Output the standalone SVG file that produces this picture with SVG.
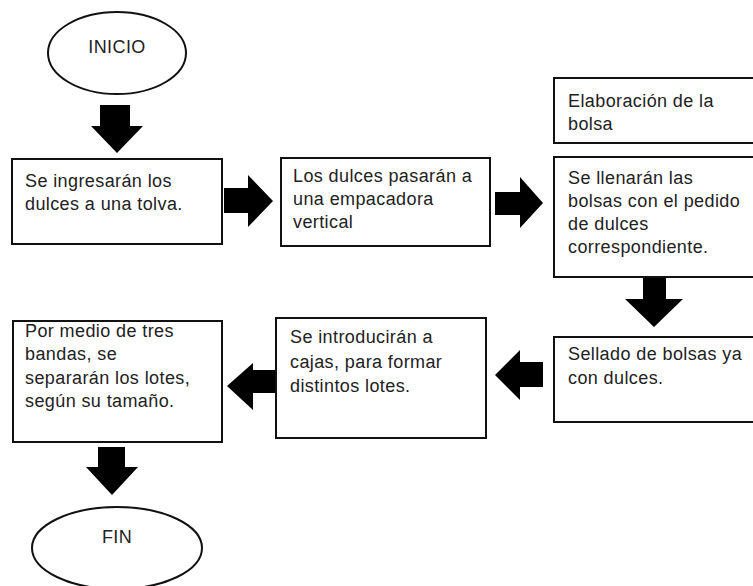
<svg xmlns="http://www.w3.org/2000/svg" width="753" height="586" viewBox="0 0 753 586">
<style>
.box{fill:#fff;stroke:#111;stroke-width:2}
.term{fill:#fff;stroke:#111;stroke-width:2}
.t{font-family:"Liberation Sans",Arial,sans-serif;font-size:18px;letter-spacing:0.4px;fill:#222}
.c{text-anchor:middle}
.arr{fill:#000}
</style>
<rect width="753" height="586" fill="#fff"/>
<g id="connectors">
<polygon class="arr" points="100,105 130,105 130,126 143,126 117,153 91,126 100,126"/>
<polygon class="arr" points="224,188 248,188 248,175 273,201 248,227 248,213 224,213"/>
<polygon class="arr" points="495,192 520,192 520,177 543,203 520,228 520,215 495,215"/>
<polygon class="arr" points="643,278 666,278 666,299 683,299 654,327 625,299 643,299"/>
<polygon class="arr" points="543,362 520,362 520,350 495,375 520,400 520,387 543,387"/>
<polygon class="arr" points="276,370 253,370 253,363 227,386 253,410 253,393 276,393"/>
<polygon class="arr" points="98,447 125,447 125,467 138,467 112,495 86,467 98,467"/>
</g>
<g id="inicio">
<ellipse class="term" cx="117" cy="53" rx="69" ry="41"/>
<text class="t c" x="117" y="53">INICIO</text>
</g>
<g id="n1">
<rect class="box" x="12" y="159" width="210" height="85"/>
<text class="t" x="25" y="187">Se ingresarán los</text>
<text class="t" x="25" y="210">dulces a una tolva.</text>
</g>
<g id="n2">
<rect class="box" x="281" y="158" width="209" height="88"/>
<text class="t" x="293" y="182">Los dulces pasarán a</text>
<text class="t" x="293" y="205">una empacadora</text>
<text class="t" x="293" y="228">vertical</text>
</g>
<g id="n3">
<rect class="box" x="554" y="78" width="210" height="65"/>
<text class="t" x="568" y="107">Elaboración de la</text>
<text class="t" x="568" y="130">bolsa</text>
</g>
<g id="n4">
<rect class="box" x="554" y="157" width="210" height="120"/>
<text class="t" x="568" y="184">Se llenarán las</text>
<text class="t" x="568" y="207">bolsas con el pedido</text>
<text class="t" x="568" y="230">de dulces</text>
<text class="t" x="568" y="253">correspondiente.</text>
</g>
<g id="n5">
<rect class="box" x="554" y="337" width="210" height="85"/>
<text class="t" x="568" y="360">Sellado de bolsas ya</text>
<text class="t" x="568" y="384">con dulces.</text>
</g>
<g id="n6">
<rect class="box" x="276" y="318" width="210" height="120"/>
<text class="t" x="290" y="343">Se introducirán a</text>
<text class="t" x="290" y="368">cajas, para formar</text>
<text class="t" x="290" y="392">distintos lotes.</text>
</g>
<g id="n7">
<rect class="box" x="13" y="321" width="209" height="121"/>
<text class="t" x="25" y="337">Por medio de tres</text>
<text class="t" x="25" y="360">bandas, se</text>
<text class="t" x="25" y="384">separarán los lotes,</text>
<text class="t" x="25" y="407">según su tamaño.</text>
</g>
<g id="fin">
<ellipse class="term" cx="117" cy="548" rx="85" ry="41"/>
<text class="t c" x="117" y="543">FIN</text>
</g>
</svg>
